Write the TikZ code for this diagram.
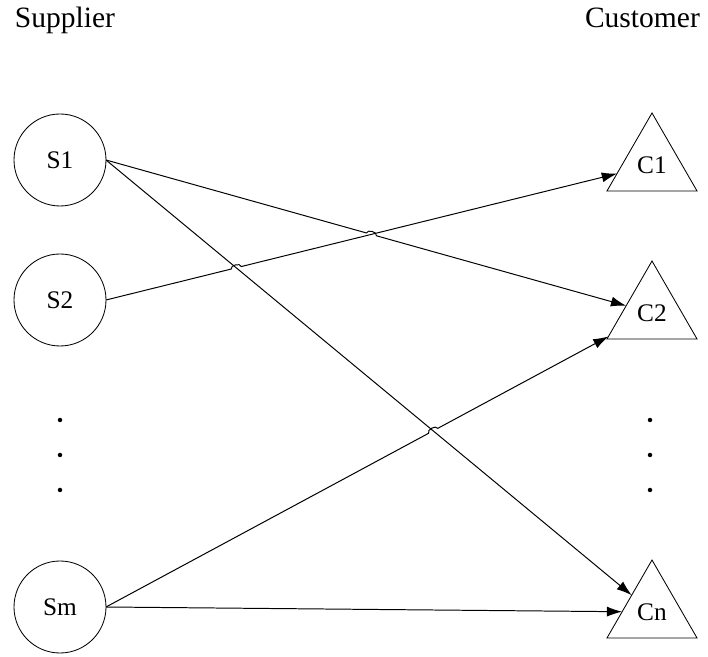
\documentclass[tikz,border=0pt]{standalone}
\usepackage{fontspec}
\setmainfont{Liberation Serif}
\usepackage{tikz}
\usetikzlibrary{arrows.meta,
                calc,
                intersections,
                shapes.geometric}

\tikzset{supp/.style={circle,draw,line width=0.6pt,minimum size=2.3cm,inner sep=0pt,outer sep=0pt,
                      font=\fontsize{18}{21}\selectfont},
         cust/.style={regular polygon,regular polygon sides=3,draw,line width=0.6pt,minimum size=2.6cm,
                      inner sep=0pt,outer sep=0pt,font=\fontsize{18}{21}\selectfont},
         arr/.style={line width=0.7pt,-{Latex[length=0.38cm,width=0.25cm]}}}

\begin{document}
\begin{tikzpicture}
\useasboundingbox (0,0) rectangle (17.7,16.4);
\node[anchor=base west,font=\fontsize{21}{25}\selectfont] (sup) at (0.25,15.7) {Supplier};
\node[anchor=base east,font=\fontsize{21}{25}\selectfont] (cus) at (17.62,15.7) {Customer};

\foreach \n/\y in {S1/12.4,S2/8.9,Sm/1.225}
  \node[supp] (\n) at (1.5,\y) {\n};
\foreach \n/\y in {C1/12.275,C2/8.575,Cn/1.1}
  \node[cust] (\n) at (16.3,\y) {\n};

\foreach \y in {5.9,5.025,4.15}{
  \fill (1.5,\y) circle (1.6pt);
  \fill (16.25,\y) circle (1.6pt);}

% plain lines
\draw[arr] (S1.east) -- (Cn);
\draw[arr] (Sm.east) -- (Cn);

% lines with a hop over the crossing line
\foreach \a/\b/\c/\d in {S1/C2/S2/C1,S2/C1/S1/Cn,Sm/C2/S1/Cn}{
  \path[name path=p] (\a.east) -- (\b);
  \path[name path=q] (\c.east) -- (\d);
  \path[name intersections={of=p and q,by=x}];
  \draw[arr] (\a.east) -- ($(x)!0.13cm!(\a.east)$) to[bend left=90]
    ($(x)!0.13cm!(\b)$) -- (\b);
}
\end{tikzpicture}
\end{document}
